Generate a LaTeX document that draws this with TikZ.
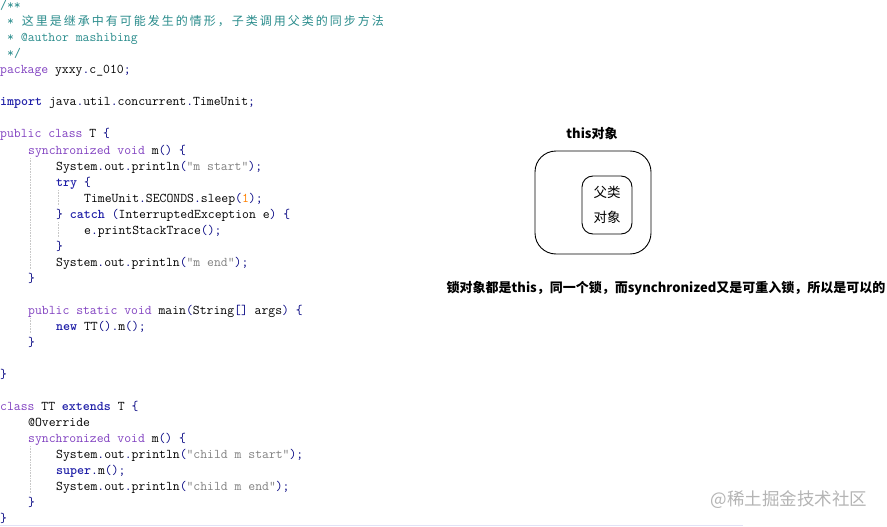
\documentclass[tikz,border=0pt]{standalone}
\usepackage{fontspec}
\newfontfamily\cjk{Noto Sans CJK SC}
\definecolor{kwc}{HTML}{8040C0}
\definecolor{kbc}{HTML}{2020A8}
\definecolor{opc}{HTML}{000080}
\definecolor{stc}{HTML}{808080}
\definecolor{nmc}{HTML}{FF8000}
\definecolor{cmc}{HTML}{2A8C8C}
\definecolor{wmc}{HTML}{B4B4B4}
\definecolor{guidec}{HTML}{C8C8C8}
\definecolor{basec}{HTML}{E2E2F6}
\ExplSyntaxOn
\NewDocumentCommand\cjkspread{mm}{\tl_map_inline:nn{#2}{\makebox[#1][c]{##1}}}
\ExplSyntaxOff
\newcommand\jkw[1]{\textcolor{kwc}{#1}}
\newcommand\jkb[1]{\textcolor{kbc}{\bfseries #1}}
\newcommand\jop[1]{\textcolor{opc}{#1}}
\newcommand\jst[1]{\textcolor{stc}{#1}}
\newcommand\jnm[1]{\textcolor{nmc}{#1}}
\newcommand\jcm[1]{\textcolor{cmc}{#1}}
\tikzset{
  code/.style={anchor=base west, inner sep=0pt, font=\ttfamily\fontsize{13.33}{16}\selectfont},
  guide/.style={guidec, densely dotted, line width=0.6pt},
  box/.style={draw, line width=0.9pt},
  cjkbold/.style={inner sep=0pt, font=\cjk\bfseries\fontsize{13}{16}\selectfont}
}
\begin{document}
\begin{tikzpicture}[x=1pt,y=-1pt]
\useasboundingbox (0,0) rectangle (887,527);
% ---- code listing ----
\node[code] (l0) at (0,10) {\jcm{/**}};
\node[code] (l1) at (7,26) {\jcm{* {\cjk\fontsize{12}{14}\selectfont\cjkspread{14pt}{这里是继承中有可能发生的情形，子类调用父类的同步方法}}}};
\node[code] (l2) at (7,42) {\jcm{* @author mashibing}};
\node[code] (l3) at (7,58) {\jcm{*/}};
\node[code] (l4) at (0,74) {\jkw{package} yxxy\jop{.}c\_010\jop{;}};
\node[code] (l6) at (0,106) {\jkb{import} java\jop{.}util\jop{.}concurrent\jop{.}TimeUnit\jop{;}};
\node[code] (l8) at (0,138) {\jkw{public} \jkw{class} T \jop{\{}};
\node[code] (l9) at (28,154) {\jkw{synchronized} \jkw{void} m\jop{()} \jop{\{}};
\node[code] (l10) at (56,170) {System\jop{.}out\jop{.}println\jop{(}\jst{"m start"}\jop{);}};
\node[code] (l11) at (56,186) {\jkb{try} \jop{\{}};
\node[code] (l12) at (84,202) {TimeUnit\jop{.}SECONDS\jop{.}sleep\jop{(}\jnm{1}\jop{);}};
\node[code] (l13) at (56,218) {\jop{\}} \jkb{catch} \jop{(}InterruptedException e\jop{)} \jop{\{}};
\node[code] (l14) at (84,234) {e\jop{.}printStackTrace\jop{();}};
\node[code] (l15) at (56,250) {\jop{\}}};
\node[code] (l16) at (56,266) {System\jop{.}out\jop{.}println\jop{(}\jst{"m end"}\jop{);}};
\node[code] (l17) at (28,282) {\jop{\}}};
\node[code] (l19) at (28,314) {\jkw{public} \jkw{static} \jkw{void} main\jop{(}String\jop{[]} args\jop{)} \jop{\{}};
\node[code] (l20) at (56,330) {\jkb{new} TT\jop{().}m\jop{();}};
\node[code] (l21) at (28,346) {\jop{\}}};
\node[code] (l23) at (0,378) {\jop{\}}};
\node[code] (l25) at (0,410) {\jkw{class} TT \jkb{extends} T \jop{\{}};
\node[code] (l26) at (28,426) {@Override};
\node[code] (l27) at (28,442) {\jkw{synchronized} \jkw{void} m\jop{()} \jop{\{}};
\node[code] (l28) at (56,458) {System\jop{.}out\jop{.}println\jop{(}\jst{"child m start"}\jop{);}};
\node[code] (l29) at (56,474) {\jkb{super}\jop{.}m\jop{();}};
\node[code] (l30) at (56,490) {System\jop{.}out\jop{.}println\jop{(}\jst{"child m end"}\jop{);}};
\node[code] (l31) at (28,506) {\jop{\}}};
\node[code] (l32) at (0,522) {\jop{\}}};
% indent guides
\draw[guide] (30,158) -- (30,270);
\draw[guide] (58,190) -- (58,206);
\draw[guide] (58,222) -- (58,238);
\draw[guide] (30,318) -- (30,334);
\draw[guide] (30,446) -- (30,494);
% bottom rule
\draw[basec, line width=1pt] (0,525.5) -- (743,525.5);
% ---- diagram ----
\node[cjkbold] (thislbl) at (592,134) {this对象};
\node[box, rounded corners=21pt, minimum width=116pt, minimum height=103pt] (outer) at (593,202.5) {};
\node[box, rounded corners=11pt, minimum width=50pt, minimum height=58pt, align=center,
      font=\cjk\fontsize{13.5}{25}\selectfont] (inner) at (607,205) {父类\\对象};
\node[cjkbold] (caption) at (666,288) {锁对象都是this，同一个锁，而synchronized又是可重入锁，所以是可以的};
% watermark
\node[inner sep=0pt, text=wmc, font=\cjk\fontsize{17.5}{20}\selectfont] (wm) at (789,500) {@稀土掘金技术社区};
\end{tikzpicture}
\end{document}
